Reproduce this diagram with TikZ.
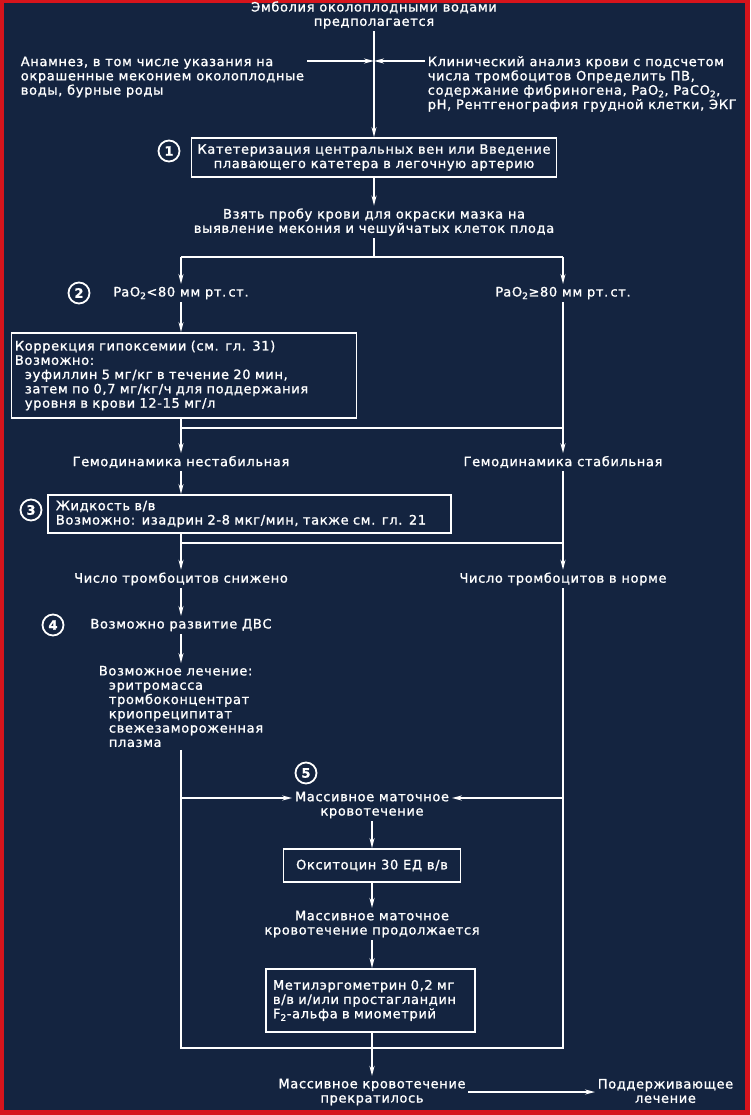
\documentclass[tikz,border=0pt]{standalone}
\usepackage{fontspec}
\setmainfont{DejaVu Sans}[LetterSpace=5.0,FakeBold=1.2]
\usetikzlibrary{arrows.meta}
\definecolor{navy}{RGB}{20,36,64}
\definecolor{borderred}{RGB}{214,20,28}
\newcommand{\flowfont}{\fontsize{13}{14.3}\selectfont}

\begin{document}
\begin{tikzpicture}[x=1pt,y=-1pt,white,line width=1.6pt,
  every node/.style={font=\flowfont,text=white,inner sep=2pt},
  arr/.style={-{Stealth[length=10pt,width=5pt]}},
  flowbox/.style={draw,line width=1.8pt},
  numcirc/.style={circle,draw,line width=1.8pt,minimum size=21pt,inner sep=0pt,font=\flowfont\bfseries}]

	% background and frame
	\fill[borderred] (0,0) rectangle (750,1115);
	\fill[navy] (4,3) rectangle (745,1110);
	\useasboundingbox (0,0) rectangle (750,1115);

	% top part
	\node[align=center] (T) at (374,15) {Эмболия околоплодными водами\\предполагается};
	\node[align=left,anchor=west] (H) at (18,77) {Анамнез, в том числе указания на\\окрашенные меконием околоплодные\\воды, бурные роды};
	\node[align=left,anchor=west] (L) at (425,84) {Клинический анализ крови с подсчетом\\числа тромбоцитов Определить ПВ,\\содержание фибриногена, PaO\textsubscript{2}, PaCO\textsubscript{2},\\pH, Рентгенография грудной клетки, ЭКГ};
	\coordinate (J) at (374,61);

	\node[flowbox,align=center,minimum width=365pt,minimum height=39pt] (B1) at (374,157.5) {Катетеризация центральных вен или Введение\\плавающего катетера в легочную артерию};
	\node[numcirc] (N1) at (169,151) {1};
	\node[align=center] (P) at (374,222) {Взять пробу крови для окраски мазка на\\выявление мекония и чешуйчатых клеток плода};

	\coordinate (S) at (374,257);
	\coordinate (SL) at (181,257);
	\coordinate (SR) at (563,257);

	% PaO2 branches
	\node (PL) at (181,293) {PaO\textsubscript{2}<80 мм рт.\,ст.};
	\node (PR) at (563,293) {PaO\textsubscript{2}≥80 мм рт.\,ст.};
	\node[numcirc] (N2) at (79,293) {2};
	\node[flowbox,align=left,anchor=west,inner xsep=3.5pt,text width=338pt,minimum height=85pt] (B2) at (10.5,375.5) {Коррекция гипоксемии (см. гл. 31)\\Возможно:\\\hspace*{10pt}эуфиллин 5 мг/кг в течение 20 мин,\\\hspace*{10pt}затем по 0,7 мг/кг/ч для поддержания\\\hspace*{10pt}уровня в крови 12-15 мг/л};

	\coordinate (G) at (181,428);
	\coordinate (GR) at (563,428);

	% hemodynamics
	\node (HU) at (181,462) {Гемодинамика нестабильная};
	\node (HS) at (563,462) {Гемодинамика стабильная};
	\node[flowbox,align=left,anchor=west,inner xsep=8pt,text width=387pt,minimum height=38pt] (B3) at (47,514) {Жидкость в/в\\Возможно: изадрин 2-8 мкг/мин, также см. гл. 21};
	\node[numcirc] (N3) at (31,510) {3};

	\coordinate (K) at (181,543);
	\coordinate (KR) at (563,543);

	% platelets
	\node (TL) at (181,579) {Число тромбоцитов снижено};
	\node (TR) at (563,579) {Число тромбоцитов в норме};
	\node (D) at (181,625) {Возможно развитие ДВС};
	\node[numcirc] (N4) at (53,625) {4};
	\node[align=left] (R) at (181,706.5) {Возможное лечение:\\\hspace*{10pt}эритромасса\\\hspace*{10pt}тромбоконцентрат\\\hspace*{10pt}криопреципитат\\\hspace*{10pt}свежезамороженная\\\hspace*{10pt}плазма};

	\coordinate (ML) at (181,798);
	\coordinate (MR) at (563,798);
	\coordinate (BL) at (181,1048);
	\coordinate (BR) at (563,1048);

	% bleeding
	\node[align=center] (M) at (372,805) {Массивное маточное\\кровотечение};
	\node[numcirc] (N5) at (306,773) {5};
	\node[flowbox,minimum width=177pt,minimum height=33pt] (O) at (372,865.5) {Окситоцин 30 ЕД в/в};
	\node[align=center] (C) at (372,924) {Массивное маточное\\кровотечение продолжается};
	\node[flowbox,align=left,inner xsep=7pt,text width=195pt,minimum height=63pt] (E) at (370.5,1000.5) {Метилэргометрин 0,2 мг\\в/в и/или простагландин\\F\textsubscript{2}-альфа в миометрий};
	\node[align=center] (Z) at (372,1092) {Массивное кровотечение\\прекратилось};
	\node[align=center] (Q) at (665.5,1091) {Поддерживающее\\лечение};

	% connectors
	\draw[arr] (T) -- (B1);
	\draw[arr] (H.east |- J) -- (J);
	\draw[arr] (L.west |- J) -- (J);
	\draw[arr] (B1) -- (P);
	\draw (P) -- (S);
	\draw (SL) -- (SR);
	\draw[arr] (SL) -- (PL);
	\draw[arr] (SR) -- (PR);
	\draw[arr] (PL) -- (PL |- B2.north);
	\draw (PR) -- (GR);
	\draw (PL |- B2.south) -- (G) -- (GR);
	\draw[arr] (G) -- (HU);
	\draw[arr] (GR) -- (HS);
	\draw[arr] (HU) -- (HU |- B3.north);
	\draw (HS) -- (KR);
	\draw (HU |- B3.south) -- (K) -- (KR);
	\draw[arr] (K) -- (TL);
	\draw[arr] (KR) -- (TR);
	\draw[arr] (TL) -- (D);
	\draw[arr] (D) -- (R);
	\draw (R) -- (BL) -- (BR) -- (TR);
	\draw[arr] (ML) -- (ML -| M.west);
	\draw[arr] (MR) -- (MR -| M.east);
	\draw[arr] (M) -- (O);
	\draw[arr] (O) -- (C);
	\draw[arr] (C) -- (E.north -| C);
	\draw[arr] (E.south -| Z) -- (Z);
	\draw[arr] (Z.east) -- (Z.east -| Q.west);

\end{tikzpicture}
\end{document}
